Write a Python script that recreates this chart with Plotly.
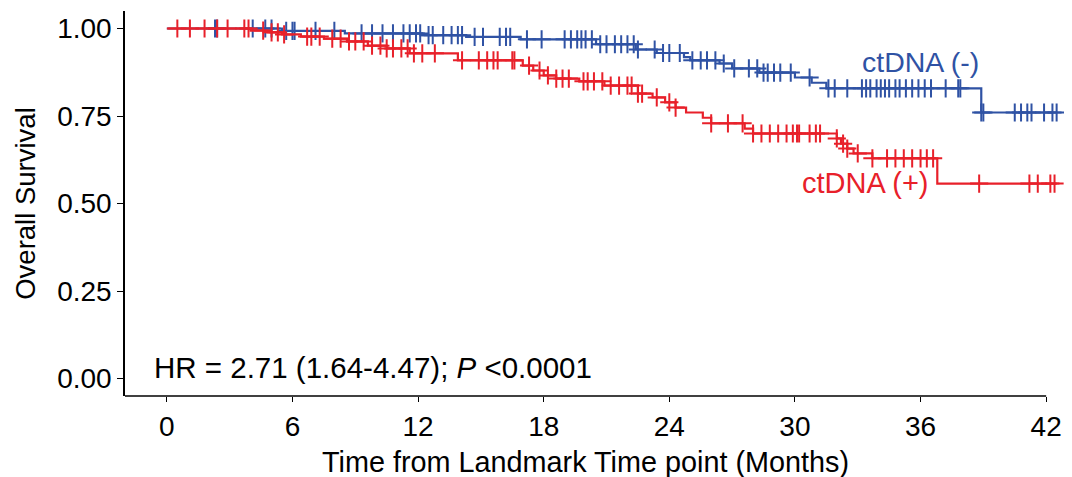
import numpy as np
import plotly.graph_objects as go

# ---- data ----
neg_times = [0, 5.5, 8.5, 12.2, 14.3, 16.9, 20.5, 22.4, 23.4, 24.7, 25.0, 26.4, 27.0, 28.3, 30.0, 30.8, 31.5, 38.9, 42.5]
neg_surv = [1.0, 0.993, 0.986, 0.981, 0.976, 0.969, 0.955, 0.94, 0.93, 0.918, 0.909, 0.90, 0.886, 0.874, 0.86, 0.845, 0.829, 0.76, 0.76]
neg_censor = [2.3, 2.4, 4.1, 4.7, 5.0, 5.7, 6.0, 6.1, 7.1, 8.0, 9.3, 9.8, 10.3, 10.8, 11.3, 11.6, 11.9, 12.1,
              12.5, 12.7, 13.2, 13.6, 13.9, 14.1, 14.7, 15.1, 15.9, 16.2, 16.4, 17.2, 17.9, 19.0, 19.3, 19.6, 19.8,
              20.0, 20.3, 20.7, 21.0, 21.4, 21.7, 22.0, 22.3, 22.5, 23.3, 23.7, 24.0, 24.5, 25.1, 25.5, 25.8,
              26.2, 26.6, 27.1, 27.8, 28.2, 28.5, 28.7, 29.0, 29.3, 29.8, 30.7, 31.6, 31.9, 32.5, 33.2, 33.4,
              33.6, 33.9, 34.1, 34.3, 34.5, 34.8, 35.0, 35.3, 35.6, 35.9, 36.2, 36.5, 37.2, 37.8, 37.9, 38.9,
              39.0, 40.5, 40.8, 41.1, 41.3, 41.9, 42.3, 42.5]

pos_times = [0, 4.0, 4.8, 5.5, 6.4, 7.5, 8.6, 9.6, 10.5, 11.6, 13.9, 17.0, 17.5, 18.0, 18.6, 19.7, 20.9, 22.5, 23.2,
             23.8, 24.3, 24.8, 25.6, 26.0, 27.6, 28.0, 32.0, 32.2, 32.5, 32.8, 33.7, 36.8, 42.5]
pos_surv = [1.0, 0.994, 0.989, 0.983, 0.977, 0.971, 0.963, 0.951, 0.943, 0.929, 0.909, 0.894, 0.88, 0.866, 0.857,
            0.849, 0.837, 0.814, 0.803, 0.789, 0.774, 0.76, 0.745, 0.729, 0.714, 0.70, 0.686, 0.671, 0.657, 0.643,
            0.629, 0.557, 0.557]
pos_censor = [0.5, 1.1, 1.8, 2.4, 2.9, 3.7, 3.9, 4.6, 5.0, 5.3, 5.6, 6.7, 6.9, 7.3, 7.9, 8.3, 8.7, 9.0, 9.4, 9.8,
              10.2, 10.5, 10.8, 11.2, 11.5, 11.8, 12.2, 12.8, 14.1, 14.9, 15.3, 15.6, 15.8, 16.5, 16.6, 17.3,
              17.8, 18.2, 18.6, 18.9, 19.2, 19.9, 20.1, 20.4, 20.8, 21.2, 21.6, 22.0, 22.2, 22.5, 22.7, 23.4,
              24.0, 24.3, 26.0, 26.8, 27.5, 28.0, 28.4, 28.8, 29.2, 29.6, 29.9, 30.1, 30.2, 30.7, 31.0, 31.2,
              32.0, 32.3, 32.5, 33.0, 33.7, 34.4, 34.8, 35.2, 35.6, 36.0, 36.3, 36.6, 38.8, 41.2, 41.6, 42.2, 42.4]

x_ticks = [0, 6, 12, 18, 24, 30, 36, 42]
y_ticks = [0, 0.25, 0.5, 0.75, 1.0]

BLUE = "#2F52A4"
RED = "#E8202A"
FONT = "Liberation Sans, Arial, sans-serif"


def step_value(times, surv, t):
    idx = np.searchsorted(np.asarray(times), np.asarray(t), side="right") - 1
    return np.asarray(surv)[idx]


fig = go.Figure()
for times, surv, cens, col, name in [
    (neg_times, neg_surv, neg_censor, BLUE, "ctDNA (-)"),
    (pos_times, pos_surv, pos_censor, RED, "ctDNA (+)"),
]:
    fig.add_trace(go.Scatter(x=times, y=surv, mode="lines", line=dict(color=col, width=2.2, shape="hv"),
                             showlegend=False, hoverinfo="skip", name=name))
    fig.add_trace(go.Scatter(x=cens, y=step_value(times, surv, cens), mode="markers",
                             marker=dict(symbol="cross-thin", size=13, line=dict(color=col, width=2)),
                             showlegend=False, name=name))

fig.add_annotation(x=36.0, y=0.905, text="ctDNA (-)", showarrow=False, font=dict(size=28.5, color=BLUE, family=FONT),
                   xanchor="center", yanchor="middle")
fig.add_annotation(x=33.35, y=0.56, text="ctDNA (+)", showarrow=False, font=dict(size=29, color=RED, family=FONT),
                   xanchor="center", yanchor="middle")
fig.add_annotation(x=-0.7, y=0.032, text="HR = 2.71 (1.64-4.47); <i>P</i> <0.0001", showarrow=False,
                   font=dict(size=29.5, color="black", family=FONT), xanchor="left", yanchor="middle")
# x axis title, centred under the drawn axis (0..42 region)
fig.add_annotation(x=20.0, xref="x", y=0, yref="paper", yshift=-66, text="Time from Landmark Time point (Months)",
                   showarrow=False, font=dict(size=28.8, color="black", family=FONT),
                   xanchor="center", yanchor="middle")

# x axis line ending at 42
fig.add_shape(type="line", xref="x", yref="paper", x0=-2.0, x1=42, y0=0, y1=0,
              line=dict(color="black", width=1.5))

fig.update_layout(
    width=1064, height=469,
    margin=dict(l=117, r=7, t=3, b=81),
    paper_bgcolor="white", plot_bgcolor="white",
    font=dict(family=FONT, size=28, color="black"),
    xaxis=dict(range=[-2.0, 42.9], tickvals=x_ticks, ticktext=[str(v) for v in x_ticks],
               showgrid=False, zeroline=False, showline=False, ticks="outside", ticklen=5, tickwidth=1.2,
               tickcolor="black", tickfont=dict(size=28)),
    yaxis=dict(range=[-0.05, 1.05], tickvals=y_ticks, tickformat=".2f",
               showgrid=False, zeroline=False, showline=True, linecolor="black", linewidth=1.5,
               ticks="outside", ticklen=6, tickwidth=1.2, tickcolor="black", tickfont=dict(size=28),
               title=dict(text="Overall Survival", font=dict(size=27.5), standoff=14)),
)

fig.write_html("out.html")
